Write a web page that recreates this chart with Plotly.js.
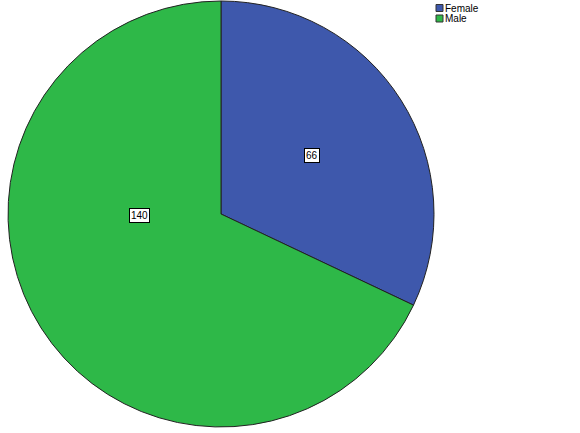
<!DOCTYPE html>
<html>
<head>
<meta charset="utf-8">
<script src="https://cdn.plot.ly/plotly-3.0.1.min.js"></script>
<style>
  html, body { margin: 0; padding: 0; background: #fff; }
  #chart { width: 580px; height: 433px; }
</style>
</head>
<body>
<div id="chart"></div>
<script>
const categories = ["Female", "Male"];
const counts = [66, 140];
const sliceColors = ["#3e58ac", "#2eb848"];

// where the boxed count labels sit, in paper coords
const labelX = [0.538, 0.240];
const labelY = [0.640, 0.503];

const W = 580, H = 433;
const font = { family: "Liberation Sans, Arial, sans-serif", size: 10, color: "#000" };

const trace = {
  type: "pie",
  labels: categories,
  values: counts,
  sort: false,
  direction: "clockwise",
  rotation: 0,
  textinfo: "none",
  hoverinfo: "label+value",
  marker: {
    colors: sliceColors,
    line: { color: "#222", width: 1 },
  },
  domain: { x: [0.0138, 0.7483], y: [0.0139, 0.9977] },
};

const annotations = counts.map((v, i) => ({
  xref: "paper",
  yref: "paper",
  x: labelX[i],
  y: labelY[i],
  xanchor: "center",
  yanchor: "middle",
  text: String(v),
  showarrow: false,
  font: font,
  bgcolor: "#fff",
  bordercolor: "#000",
  borderwidth: 1,
  borderpad: 1,
}));

// SPSS-style compact legend in the top right corner, built by hand because
// Plotly's own legend rows are much taller than the original's.
const shapes = [];
categories.forEach((name, i) => {
  const top = 4.5 + i * 10.5;
  shapes.push({
    type: "rect",
    xref: "paper",
    yref: "paper",
    x0: 436 / W,
    x1: 443 / W,
    y0: 1 - (top + 7) / H,
    y1: 1 - top / H,
    fillcolor: sliceColors[i],
    line: { color: "#333", width: 1 },
  });
  annotations.push({
    xref: "paper",
    yref: "paper",
    x: 443 / W,
    y: 1 - (top + 3.8) / H,
    xanchor: "left",
    yanchor: "middle",
    text: name,
    showarrow: false,
    font: font,
  });
});

const layout = {
  width: W,
  height: H,
  margin: { l: 0, r: 0, t: 0, b: 0 },
  paper_bgcolor: "#fff",
  showlegend: false,
  annotations: annotations,
  shapes: shapes,
};

Plotly.newPlot("chart", [trace], layout, { displayModeBar: false, staticPlot: true });
</script>
</body>
</html>
